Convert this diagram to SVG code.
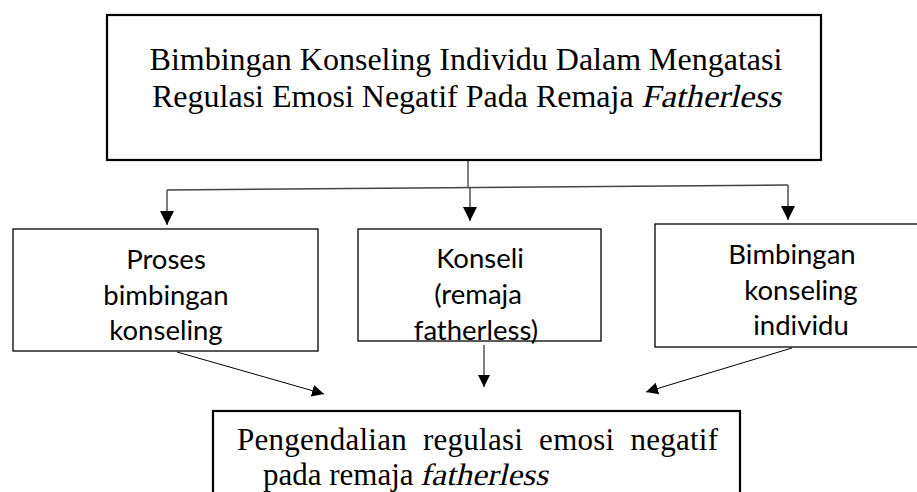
<svg xmlns="http://www.w3.org/2000/svg" width="917" height="492" viewBox="0 0 917 492">
<style>
.box{fill:#fff;stroke:#000;}
.thick{stroke-width:2.2;}
.thin{stroke-width:1.3;}
.serif{font-family:"Liberation Serif","Times New Roman",serif;fill:#000;}
.sans{font-family:Lato,"Open Sans",sans-serif;font-size:27.5px;fill:#000;text-anchor:middle;}
.con{fill:none;stroke:#444;stroke-width:1.4;}
.con2{fill:none;stroke:#000;stroke-width:1;}
</style>
<defs>
<marker id="ah" markerUnits="userSpaceOnUse" markerWidth="16" markerHeight="16" viewBox="0 0 16 16" refX="14" refY="8" orient="auto">
<path d="M0,1 L14,8 L0,15 Z" fill="#000"/>
</marker>
<marker id="ahs" markerUnits="userSpaceOnUse" markerWidth="14" markerHeight="14" viewBox="0 0 14 14" refX="12" refY="7" orient="auto">
<path d="M0,1 L12,7 L0,13 Z" fill="#000"/>
</marker>
</defs>

<g id="top">
<rect class="box thick" x="107" y="15" width="714" height="145"/>
<text class="serif" font-size="32" text-anchor="middle" x="466" y="70">Bimbingan Konseling Individu Dalam Mengatasi</text>
<text class="serif" font-size="32" x="152" y="107">Regulasi Emosi Negatif Pada Remaja</text>
<text class="serif" font-size="32" transform="translate(641,107) skewX(-13)" x="0" y="0" textLength="140" lengthAdjust="spacingAndGlyphs">Fatherless</text>
</g>

<g id="proses">
<rect class="box thin" x="13" y="229" width="305" height="122"/>
<text class="sans" x="166" y="269">Proses</text>
<text class="sans" x="166" y="305">bimbingan</text>
<text class="sans" x="166" y="340">konseling</text>
</g>

<g id="konseli">
<rect class="box thin" x="358" y="229" width="243" height="112"/>
<text class="sans" x="480" y="268">Konseli</text>
<text class="sans" x="478" y="304">(remaja</text>
<text class="sans" x="476" y="340">fatherless)</text>
</g>

<g id="bimbingan">
<rect class="box thin" x="655" y="224" width="275" height="123"/>
<text class="sans" x="792" y="264">Bimbingan</text>
<text class="sans" x="801" y="300">konseling</text>
<text class="sans" x="801" y="335">individu</text>
</g>

<g id="hasil">
<rect class="box thick" x="213" y="411" width="527" height="100"/>
<text class="serif" font-size="31" x="237" y="450" textLength="481" lengthAdjust="spacing" word-spacing="8">Pengendalian regulasi emosi negatif</text>
<text class="serif" font-size="31" x="263" y="485">pada remaja</text>
<text class="serif" font-size="31" transform="translate(420,485) skewX(-13)" x="0" y="0" textLength="128" lengthAdjust="spacingAndGlyphs">fatherless</text>
</g>

<g id="connectors">
<line class="con2" x1="468" y1="160" x2="468" y2="187" stroke-width="1.3"/>
<polyline class="con" points="167,190 788,185"/>
<line class="con" x1="167" y1="190" x2="167" y2="225" marker-end="url(#ah)"/>
<line class="con" x1="470" y1="188" x2="470" y2="221" marker-end="url(#ah)"/>
<line class="con" x1="788" y1="185" x2="788" y2="220" marker-end="url(#ah)"/>
<line class="con2" x1="177" y1="352" x2="324" y2="394" marker-end="url(#ahs)"/>
<line class="con2" x1="484" y1="345" x2="484" y2="387" marker-end="url(#ahs)"/>
<line class="con2" x1="792" y1="348" x2="646" y2="392" marker-end="url(#ahs)"/>
</g>
</svg>
